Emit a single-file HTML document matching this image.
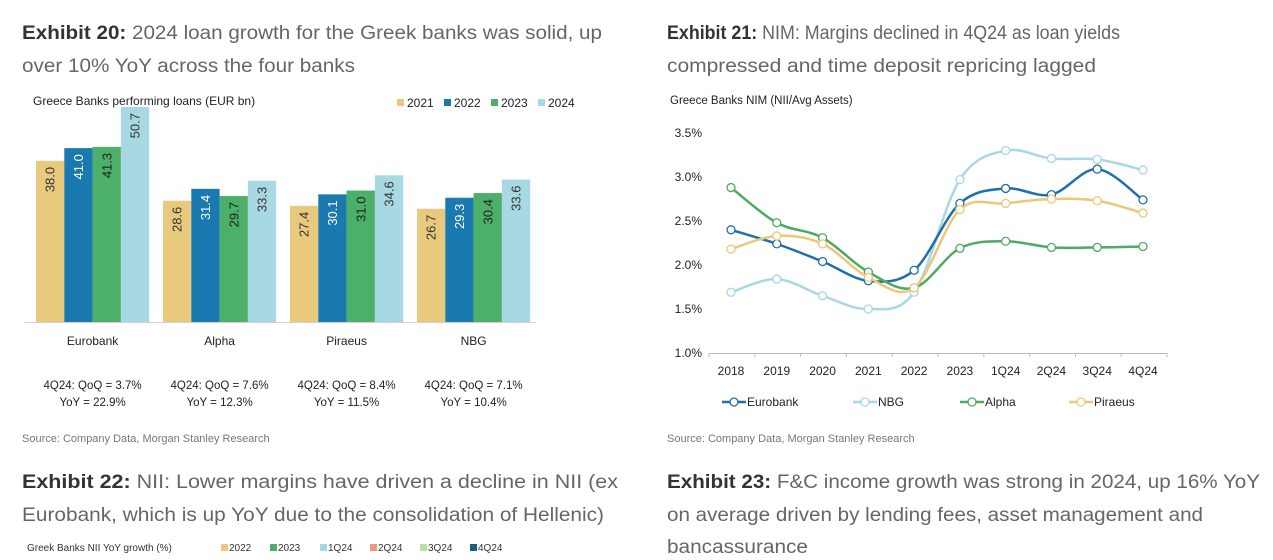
<!DOCTYPE html>
<html><head><meta charset="utf-8"><style>
html,body{margin:0;padding:0;background:#fff;}
svg{display:block;font-family:"Liberation Sans",sans-serif;}
</style></head><body>
<svg id="root" width="1273" height="560" viewBox="0 0 1273 560">
<g fill="#666" font-size="19">
<text x="22" y="39" textLength="580" lengthAdjust="spacingAndGlyphs"><tspan font-weight="bold" fill="#333">Exhibit 20:</tspan>  2024 loan growth for the Greek banks was solid, up</text>
<text x="22" y="72" textLength="333" lengthAdjust="spacingAndGlyphs">over 10% YoY across the four banks</text>
</g>
<g fill="#666" font-size="19">
<text x="667" y="39" textLength="453" lengthAdjust="spacingAndGlyphs"><tspan font-weight="bold" fill="#333">Exhibit 21:</tspan>  NIM: Margins declined in 4Q24 as loan yields</text>
<text x="667" y="72" textLength="429" lengthAdjust="spacingAndGlyphs">compressed and time deposit repricing lagged</text>
</g>
<g id="bars"></g>
<g id="lines"></g>
<text x="22" y="442" font-size="11" fill="#777">Source: Company Data, Morgan Stanley Research</text>
<text x="667" y="442" font-size="11" fill="#777">Source: Company Data, Morgan Stanley Research</text>
<g fill="#666" font-size="19">
<text x="22" y="488" textLength="596" lengthAdjust="spacingAndGlyphs"><tspan font-weight="bold" fill="#333">Exhibit 22:</tspan>  NII: Lower margins have driven a decline in NII (ex</text>
<text x="22" y="521" textLength="582" lengthAdjust="spacingAndGlyphs">Eurobank, which is up YoY due to the consolidation of Hellenic)</text>
</g>
<g fill="#666" font-size="19">
<text x="667" y="488" textLength="593" lengthAdjust="spacingAndGlyphs"><tspan font-weight="bold" fill="#333">Exhibit 23:</tspan>  F&amp;C income growth was strong in 2024, up 16% YoY</text>
<text x="667" y="521" textLength="536" lengthAdjust="spacingAndGlyphs">on average driven by lending fees, asset management and</text>
<text x="667" y="553" textLength="141" lengthAdjust="spacingAndGlyphs">bancassurance</text>
</g>
<g font-size="10" fill="#333">
<text x="27" y="551">Greek Banks NII YoY growth  (%)</text>
<rect x="221" y="544" width="7" height="7" fill="#E8C97E"/><text x="229" y="551">2022</text>
<rect x="270" y="544" width="7" height="7" fill="#4CAF6A"/><text x="278" y="551">2023</text>
<rect x="320" y="544" width="7" height="7" fill="#A8D8E2"/><text x="328" y="551">1Q24</text>
<rect x="370" y="544" width="7" height="7" fill="#E99A80"/><text x="378" y="551">2Q24</text>
<rect x="420" y="544" width="7" height="7" fill="#B7E0A5"/><text x="428" y="551">3Q24</text>
<rect x="470" y="544" width="7" height="7" fill="#1A5E8E"/><text x="478" y="551">4Q24</text>
</g>
</svg>
<script>
const NS="http://www.w3.org/2000/svg";
const banks=["Eurobank","Alpha","Piraeus","NBG"];
const years=["2021","2022","2023","2024"];
const loans2021=[38.0,28.6,27.4,26.7];
const loans2022=[41.0,31.4,30.1,29.3];
const loans2023=[41.3,29.7,31.0,30.4];
const loans2024=[50.7,33.3,34.6,33.6];
const notesQoQ=["3.7%","7.6%","8.4%","7.1%"];
const notesYoY=["22.9%","12.3%","11.5%","10.4%"];

const nimCats=["2018","2019","2020","2021","2022","2023","1Q24","2Q24","3Q24","4Q24"];
const nimTicks=[1.0,1.5,2.0,2.5,3.0,3.5];
const nimEurobank=[2.40,2.24,2.04,1.82,1.94,2.70,2.87,2.80,3.09,2.74];
const nimNBG=[1.69,1.84,1.65,1.50,1.69,2.97,3.30,3.21,3.20,3.08];
const nimAlpha=[2.88,2.48,2.31,1.92,1.74,2.19,2.27,2.20,2.20,2.21];
const nimPiraeus=[2.18,2.33,2.24,1.86,1.74,2.63,2.70,2.75,2.73,2.59];

function mk(tag,attrs,parent,text){const e=document.createElementNS(NS,tag);for(const k in attrs)e.setAttribute(k,attrs[k]);if(text!=null)e.textContent=text;parent.appendChild(e);return e;}

// ---- bar chart
const bg=document.getElementById('bars');
const barColors=["#E8C97E","#1A7AB0","#4CAF6A","#A8D8E2"];
const labelColors=["#333","#fff","#222","#333"];
const series=[loans2021,loans2022,loans2023,loans2024];
const base=322, kY=215/50.7;
const yB=v=>base-v*kY;
const groupX=i=>36+i*127, bw=28.3;
let t=mk('text',{x:33,y:105,'font-size':12,fill:'#222'},bg,'Greece Banks performing loans (EUR bn)');


years.forEach((y,j)=>{
  const lx=397+j*47;
  const r=mk('rect',{x:lx,y:99,width:7,height:7,fill:barColors[j]},bg);
  
  
  const lt=mk('text',{x:lx+10,y:107,'font-size':12,fill:'#222'},bg,y);
  
  
});
banks.forEach((b,i)=>{
  series.forEach((s,j)=>{
    const x=groupX(i)+j*bw, v=s[i];
    const r=mk('rect',{x:x,y:yB(v),width:bw,height:base-yB(v),fill:barColors[j]},bg);
    
    
    const cx=x+bw/2, ty=yB(v)+6;
    const lt=mk('text',{transform:`translate(${cx+4.5},${ty}) rotate(-90)`,'text-anchor':'end','font-size':13,fill:labelColors[j]},bg,v.toFixed(1));
    
    
  });
  const cx=groupX(i)+2*bw;
  const cl=mk('text',{x:cx,y:345,'text-anchor':'middle','font-size':12,fill:'#222'},bg,b);
  
  
  const n1=mk('text',{x:cx,y:389,'text-anchor':'middle','font-size':11.5,fill:'#222'},bg,'4Q24: QoQ = '+notesQoQ[i]);
  
  
  const n2=mk('text',{x:cx,y:406,'text-anchor':'middle','font-size':11.5,fill:'#222'},bg,'YoY = '+notesYoY[i]);
  
  
});
const ax=mk('line',{x1:25,x2:536,y1:base+0.5,y2:base+0.5,stroke:'#d0d0d0','stroke-width':1},bg);



// ---- line chart
const lg=document.getElementById('lines');
const xL=i=>731+i*(412/9);
const yL=v=>353-(v-1.0)*88;
t=mk('text',{x:670,y:104,'font-size':11.5,fill:'#222'},lg,'Greece Banks NIM (NII/Avg Assets)');


nimTicks.forEach(v=>{
  const tl=mk('text',{x:702,y:yL(v)+4,'text-anchor':'end','font-size':12,fill:'#222'},lg,v.toFixed(1)+'%');
  
  
});
const xa=mk('line',{x1:709,x2:1167,y1:353.5,y2:353.5,stroke:'#bbb'},lg);


for(let i=0;i<=nimCats.length;i++){
  const xx=709+i*(458/10);
  const tk=mk('line',{x1:xx,x2:xx,y1:353,y2:357,stroke:'#bbb'},lg);
  
  
}
nimCats.forEach((c,i)=>{
  const tl=mk('text',{x:xL(i),y:375,'text-anchor':'middle','font-size':12,fill:'#222'},lg,c);
  
  
});
function smooth(pts){
  let d=`M${pts[0][0]},${pts[0][1]}`;
  for(let i=0;i<pts.length-1;i++){
    const p0=pts[i-1]||pts[i],p1=pts[i],p2=pts[i+1],p3=pts[i+2]||p2;
    const c1=[p1[0]+(p2[0]-p0[0])/6,p1[1]+(p2[1]-p0[1])/6];
    const c2=[p2[0]-(p3[0]-p1[0])/6,p2[1]-(p3[1]-p1[1])/6];
    d+=` C${c1[0]},${c1[1]} ${c2[0]},${c2[1]} ${p2[0]},${p2[1]}`;
  }
  return d;
}
const lineSeries=[["Eurobank",nimEurobank,"#1F6FA8"],["NBG",nimNBG,"#A9D7E3"],["Alpha",nimAlpha,"#4DAA63"],["Piraeus",nimPiraeus,"#EBC77B"]];
const drawOrder=[1,0,2,3];
drawOrder.forEach(k=>{
  const [name,vals,col]=lineSeries[k];
  const pts=vals.map((v,i)=>[xL(i),yL(v)]);
  const p=mk('path',{d:smooth(pts),fill:'none',stroke:col,'stroke-width':2.5},lg);
  
  
  pts.forEach(q=>{
    const c=mk('circle',{cx:q[0],cy:q[1],r:4,fill:'#fff',stroke:col,'stroke-width':1.3},lg);
    
    
  });
});
const legX=[722,853,960,1069];
lineSeries.forEach(([name,vals,col],k)=>{
  const x=legX[k];
  const l=mk('line',{x1:x,x2:x+24,y1:402,y2:402,stroke:col,'stroke-width':2.5},lg);
  
  
  const c=mk('circle',{cx:x+12,cy:402,r:4,fill:'#fff',stroke:col,'stroke-width':1.3},lg);
  
  
  const tx=mk('text',{x:x+25,y:406,'font-size':12,fill:'#222'},lg,name);
  
  
});
</script>
</body></html>
